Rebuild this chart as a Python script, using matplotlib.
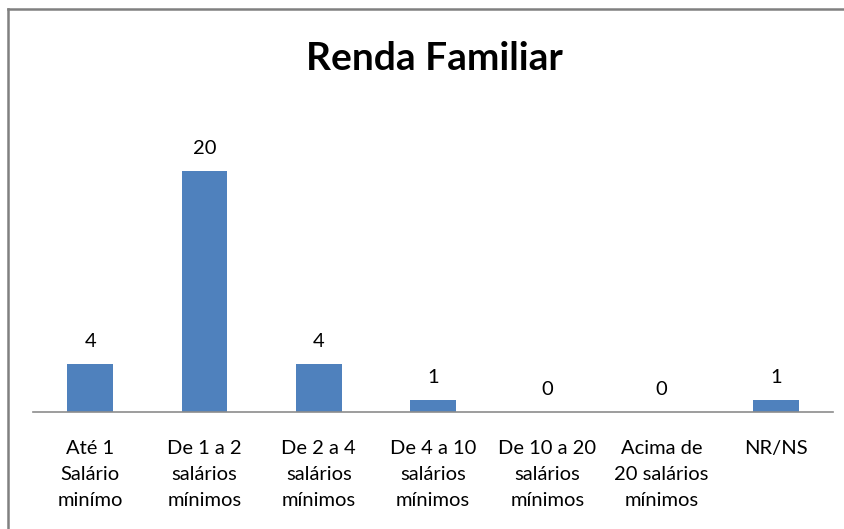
import numpy as np
import matplotlib.pyplot as plt
from matplotlib.lines import Line2D

# data
categories = ["Até 1\nSalário\nminímo", "De 1 a 2\nsalários\nmínimos", "De 2 a 4\nsalários\nmínimos",
              "De 4 a 10\nsalários\nmínimos", "De 10 a 20\nsalários\nmínimos", "Acima de\n20 salários\nmínimos",
              "NR/NS"]
values = [4, 20, 4, 1, 0, 0, 1]
title = "Renda Familiar"

W, H = 845, 529
plt.rcParams['font.family'] = ['Lato', 'DejaVu Sans']
fig = plt.figure(figsize=(W / 100, H / 100), dpi=100)
fig.patch.set_facecolor('white')

# plot area in pixel coords
left, right, top, bottom = 33, 833, 111, 412
ax = fig.add_axes([left / W, 1 - bottom / H, (right - left) / W, (bottom - top) / H])

x = np.arange(len(categories))
bars = ax.bar(x, values, width=0.4, color='#4F81BD')
ax.set_xlim(-0.5, len(categories) - 0.5)
ax.set_ylim(0, 25)

for xi, v in zip(x, values):
    ax.annotate(str(v), (xi, v), xytext=(0, 16), textcoords='offset points',
                ha='center', va='center', fontsize=14.5, color='black')

ax.set_xticks(x)
ax.set_xticklabels(categories, fontsize=14.5, linespacing=1.66, va='top')
ax.tick_params(axis='x', length=0, pad=20)
ax.set_yticks([])
for s in ['top', 'right', 'left']:
    ax.spines[s].set_visible(False)
ax.spines['bottom'].set_color('#8C8C8C')
ax.spines['bottom'].set_linewidth(1.2)

fig.text(434 / W, 1 - 70 / H, title, ha='center', va='baseline', fontsize=28, fontweight='bold')

# chart border (only top and left visible in the crop)
fig.add_artist(Line2D([8 / W, 1], [1 - 9 / H, 1 - 9 / H], color='#808080', lw=1.8, transform=fig.transFigure))
fig.add_artist(Line2D([8 / W, 8 / W], [1 - 9 / H, 0], color='#808080', lw=1.8, transform=fig.transFigure))

fig.savefig('out.png', dpi=100)
